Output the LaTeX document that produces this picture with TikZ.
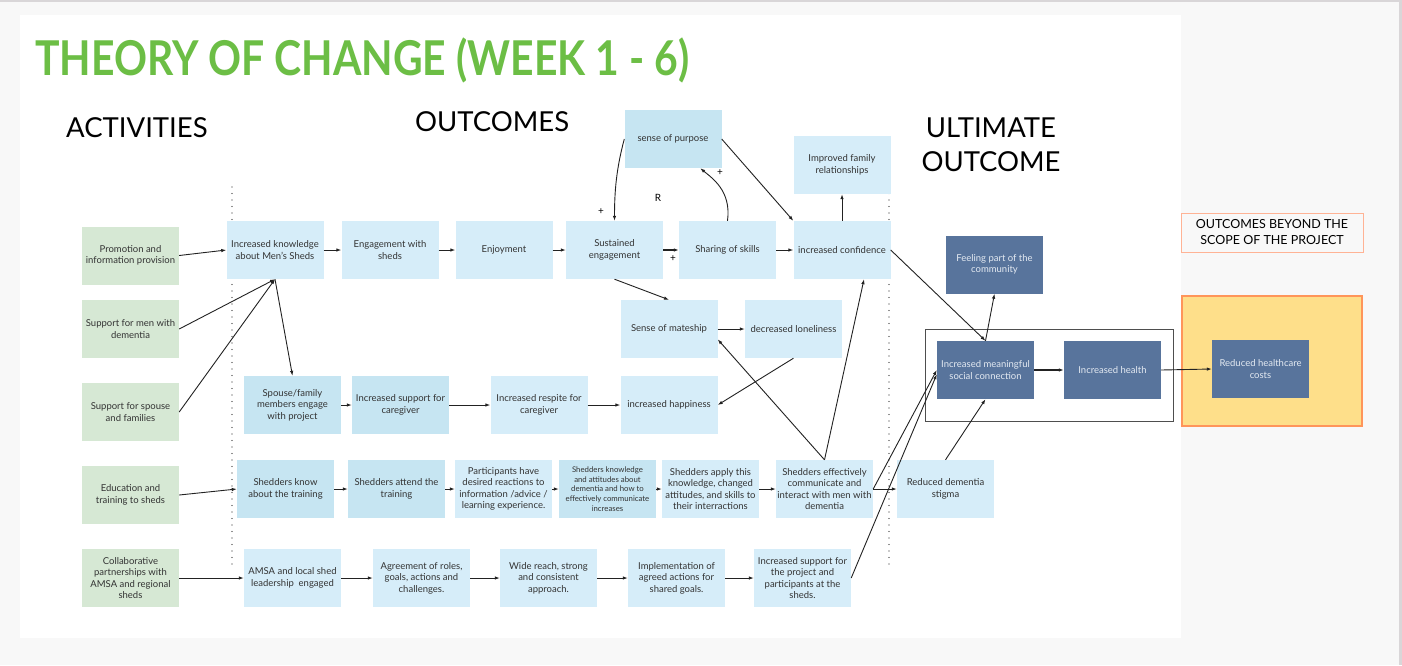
\documentclass[tikz,border=0pt]{standalone}
\usepackage{fontspec}
\setmainfont{Lato}
\usetikzlibrary{arrows.meta}
\definecolor{bggray}{HTML}{F8F8F8}
\definecolor{bordergray}{HTML}{D9D6D8}
\definecolor{actgreen}{HTML}{D6E8D4}
\definecolor{outblue}{HTML}{D6EDF9}
\definecolor{outbluedk}{HTML}{C6E5F2}
\definecolor{ultblue}{HTML}{58749C}
\definecolor{ulttext}{HTML}{E4EAF2}
\definecolor{txt}{HTML}{333333}
\definecolor{titlegreen}{HTML}{6CBE45}
\definecolor{yel}{HTML}{FEDF8A}
\definecolor{orng}{HTML}{FF955A}
\definecolor{lorng}{HTML}{FFB395}
\definecolor{ln}{HTML}{222222}
\tikzset{
  box/.style={rectangle, minimum width=97pt, minimum height=58pt, inner sep=0pt,
    align=center, text=txt, font=\fontsize{9.5}{11.5}\selectfont},
  act/.style={box, fill=actgreen},
  ob/.style={box, fill=outblue},
  obd/.style={box, fill=outbluedk},
  ult/.style={box, fill=ultblue, text=ulttext},
  arr/.style={draw=ln, line width=0.9pt, -{Latex[length=5pt,width=3.5pt]}},
  thickarr/.style={arr, line width=1.6pt},
  header/.style={font=\fontsize{27.5}{34}\selectfont, text=black, inner sep=0pt},
  sign/.style={font=\fontsize{10}{12}\selectfont, text=black, inner sep=0pt},
  divider/.style={draw=ln, line width=1.4pt, line cap=round, dash pattern=on 0pt off 6.5pt}
}
\begin{document}
\begin{tikzpicture}[x=1pt,y=-1pt]
\useasboundingbox (0,0) rectangle (1402,665);
\fill[bggray] (0,0) rectangle (1402,665);
\fill[bordergray] (0,0) rectangle (1402,2);
\fill[bordergray] (1399,0) rectangle (1402,665);
\fill[white] (20,15) rectangle (1181,638);

% titles
\node[anchor=base west, inner sep=0pt, text=titlegreen, font=\fontsize{48}{56}\bfseries] (title) at (35,75) {\scalebox{0.852}[1]{THEORY OF CHANGE (WEEK 1 - 6)}};
\node[header, anchor=base west] (hact) at (66,137) {ACTIVITIES};
\node[header, anchor=base west] (hout) at (415,131) {OUTCOMES};
\node[header, anchor=base, align=center] (hult) at (991,171) {ULTIMATE\\OUTCOME};

% dividers
\draw[divider] (232,187) -- (232,567);
\draw[divider] (889,187) -- (889,567);

% frames beyond scope
\node[draw=orng, line width=1.6pt, fill=yel, minimum width=180pt, minimum height=130pt, inner sep=0pt] (scopebox) at (1272,361) {};
\node[draw=lorng, line width=1pt, fill=bggray, minimum width=182pt, minimum height=39pt, inner sep=0pt, align=center, font=\fontsize{12.5}{16}\selectfont] (scopelbl) at (1272,232.5) {OUTCOMES BEYOND THE\\SCOPE OF THE PROJECT};
\node[draw=ln!80, line width=1pt, minimum width=248pt, minimum height=92pt, inner sep=0pt] (frame) at (1049,375) {};

% activities
\node[act] (a1) at (130.5,255.5) {Promotion and\\information provision};
\node[act] (a2) at (130.5,329) {Support for men with\\dementia};
\node[act] (a3) at (130.5,412) {Support for spouse\\and families};
\node[act] (a4) at (130.5,495) {Education and\\training to sheds};
\node[act] (a5) at (130.5,578) {Collaborative\\partnerships with\\AMSA and regional\\sheds};

% row 1
\node[ob] (b1) at (275,250) {Increased knowledge\\about Men's Sheds};
\node[ob] (b2) at (390,250) {Engagement with\\sheds};
\node[ob] (b3) at (504,250) {Enjoyment};
\node[ob] (b4) at (614.5,250) {Sustained\\engagement};
\node[ob] (b5) at (727.5,250) {Sharing of skills};
\node[ob] (b6) at (842,250) {increased confidence};
\node[obd] (purp) at (673,139) {sense of purpose};
\node[ob] (fam) at (842,165) {Improved family\\relationships};

% row 2
\node[ob] (mate) at (669,329) {Sense of mateship};
\node[ob] (lone) at (793.5,329) {decreased loneliness};

% row 3
\node[obd] (spouse) at (292.5,405) {Spouse/family\\members engage\\with project};
\node[obd] (care) at (400.5,405) {Increased support for\\caregiver};
\node[ob] (resp) at (539,405) {Increased respite for\\caregiver};
\node[ob] (happy) at (669,405) {increased happiness};

% row 4
\node[obd] (know) at (285.5,489) {Shedders know\\about the training};
\node[obd] (attend) at (396.5,489) {Shedders attend the\\training};
\node[ob] (react) at (503.5,489) {Participants have\\desired reactions to\\information /advice /\\learning experience.};
\node[obd, font=\fontsize{7.8}{9.8}\selectfont] (attit) at (607.5,489) {Shedders knowledge\\and attitudes about\\dementia and how to\\effectively communicate\\increases};
\node[ob] (apply) at (710.5,489) {Shedders apply this\\knowledge, changed\\attitudes, and skills to\\their interractions};
\node[ob] (eff) at (824.5,489) {Shedders effectively\\communicate and\\interact with men with\\dementia};
\node[ob] (stigma) at (945.5,489) {Reduced dementia\\stigma};

% row 5
\node[ob] (amsa) at (292.5,578) {AMSA and local shed\\leadership\ \ engaged};
\node[ob] (agree) at (421.5,578) {Agreement of roles,\\goals, actions and\\challenges.};
\node[ob] (wide) at (548.5,578) {Wide reach, strong\\and consistent\\approach.};
\node[ob] (impl) at (676.5,578) {Implementation of\\agreed actions for\\shared goals.};
\node[ob] (isp) at (802.5,578) {Increased support for\\the project and\\participants at the\\sheds.};

% ultimate
\node[ult] (feel) at (994.5,264.5) {Feeling part of the\\community};
\node[ult] (imsc) at (985.5,370) {Increased meaningful\\social connection};
\node[ult] (health) at (1112.5,370) {Increased health};
\node[ult] (cost) at (1260.5,369) {Reduced healthcare\\costs};

% signs
\node[sign] (r) at (658,198) {R};
\node[sign] (p1) at (601,212) {+};
\node[sign] (p2) at (720,173) {+};
\node[sign] (p3) at (673,259) {+};

% connectors: activities
\draw[arr] (a1.east) -- (b1.west);
\draw[arr] (a2.east) -- (b1.south);
\draw[arr] (a3.east) -- (b1.south);
\draw[arr] (b1.south) -- (spouse.north);
\draw[arr] (a4.east) -- (know.west);
\draw[arr] (a5.east) -- (amsa.west);

% row 1
\draw[arr] (b1.east) -- (b2.west);
\draw[arr] (b2.east) -- (b3.west);
\draw[arr] (b3.east) -- (b4.west);
\draw[thickarr] (b4.east) -- (b5.west);
\draw[arr] (b5.east) -- (b6.west);
\draw[arr] (b6.north) -- (fam.south);
\draw[arr] (purp.west) .. controls +(-8,30) and +(0,-30) .. (b4.north);
\draw[arr] (b5.north) .. controls +(4,-30) and +(12,10) .. (purp.-47);
\draw[arr] (purp.east) -- (b6.north west);
\draw[arr] (b4.south) -- (mate.north);

% row 2/3
\draw[arr] (mate.east) -- (lone.west);
\draw[arr] (lone.south) -- (happy.east);
\draw[arr] (spouse.east) -- (care.west);
\draw[arr] (care.east) -- (resp.west);
\draw[arr] (resp.east) -- (happy.west);

% row 4
\draw[arr] (know.east) -- (attend.west);
\draw[arr] (attend.east) -- (react.west);
\draw[arr] (react.east) -- (attit.west);
\draw[arr] (attit.east) -- (apply.west);
\draw[arr] (apply.east) -- (eff.west);
\draw[arr] (eff.north) -- (mate.-12);
\draw[arr] (eff.north) -- (b6.-53);
\draw[arr] (eff.east) -- (stigma.west);
\draw[arr] (eff.east) -- (imsc.west);

% row 5
\draw[arr] (amsa.east) -- (agree.west);
\draw[arr] (agree.east) -- (wide.west);
\draw[arr] (wide.east) -- (impl.west);
\draw[arr] (impl.east) -- (isp.west);
\draw[arr] (isp.east) -- (imsc.185);

% ultimate
\draw[arr] (b6.east) -- (imsc.north);
\draw[arr] (stigma.north) -- (imsc.south);
\draw[arr] (imsc.north) -- (feel.south);
\draw[thickarr] (imsc.east) -- (health.west);
\draw[arr] (health.east) -- (cost.west);
\end{tikzpicture}
\end{document}
